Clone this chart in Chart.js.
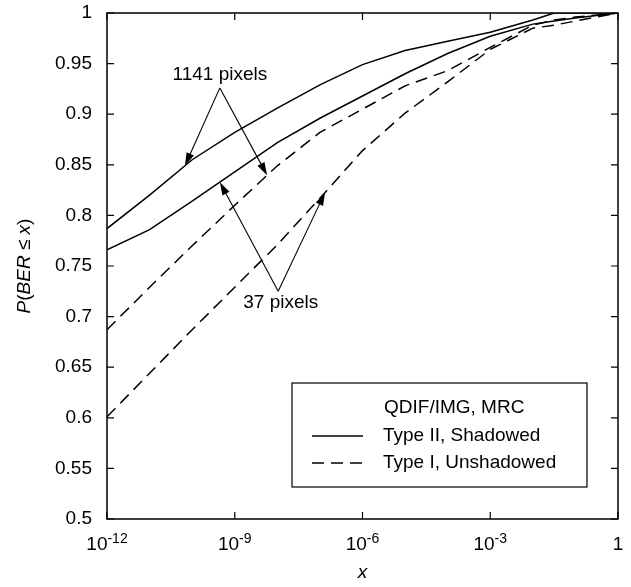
<!DOCTYPE html>
<html>
<head>
<meta charset="utf-8">
<script src="https://cdn.jsdelivr.net/npm/chart.js@4.4.1/dist/chart.umd.min.js"></script>
<style>
  html, body { margin: 0; padding: 0; background: #fff; }
  canvas { display: block; }
</style>
</head>
<body>
<canvas id="myChart" width="631" height="587"></canvas>
<script>
// values
const xValues = [1e-12, 1e-11, 1e-10, 1e-9, 1e-8, 1e-7, 1e-6, 1e-5, 1e-4, 1e-3, 1e-2, 3.16e-2, 1e-1, 1];
const shadowed1141   = [0.787, 0.820, 0.855, 0.882, 0.906, 0.929, 0.949, 0.963, 0.972, 0.981, 0.993, 1.0, 1.0, 1.0];
const shadowed37     = [0.766, 0.786, 0.814, 0.843, 0.872, 0.896, 0.918, 0.940, 0.960, 0.977, 0.989, 0.992, 0.995, 1.0];
const unshadowed1141 = [0.687, 0.729, 0.770, 0.810, 0.849, 0.882, 0.905, 0.928, 0.943, 0.966, 0.988, 0.993, 0.996, 1.0];
const unshadowed37   = [0.601, 0.644, 0.687, 0.729, 0.771, 0.817, 0.864, 0.901, 0.932, 0.964, 0.985, 0.988, 0.992, 1.0];
const allSeries = [shadowed1141, shadowed37, unshadowed1141, unshadowed37];

const xTickValues = [1e-12, 1e-9, 1e-6, 1e-3, 1];
const xTickLabels = [['10', '-12'], ['10', '-9'], ['10', '-6'], ['10', '-3'], ['1', '']];
const yTickValues = [0.5, 0.55, 0.6, 0.65, 0.7, 0.75, 0.8, 0.85, 0.9, 0.95, 1];
const yTickLabels = ['0.5', '0.55', '0.6', '0.65', '0.7', '0.75', '0.8', '0.85', '0.9', '0.95', '1'];

const legendTitle = 'QDIF/IMG, MRC';
const seriesNames = ['Type II, Shadowed', 'Type I, Unshadowed'];

// annotation text + arrows, in data coordinates; tips sit on a series at given x
const notes = [
  { text: '1141 pixels', at: [10 ** -9.35, 0.939], apex: [10 ** -9.35, 0.926],
    tips: [[0, 10 ** -10.17], [2, 10 ** -8.24]] },
  { text: '37 pixels', at: [10 ** -7.92, 0.714], apex: [10 ** -7.98, 0.725],
    tips: [[1, 10 ** -9.35], [3, 10 ** -6.88]] }
];

const FONT = '"Liberation Sans", Arial, Helvetica, sans-serif';
const DASH = [12, 7];

function font(size, italic) {
  return (italic ? 'italic ' : '') + size + 'px ' + FONT;
}

function yOnCurve(data, x) {
  const lx = Math.log10(x);
  for (let i = 0; i < xValues.length - 1; i++) {
    const a = Math.log10(xValues[i]), b = Math.log10(xValues[i + 1]);
    if (lx >= a && lx <= b) return data[i] + (data[i + 1] - data[i]) * (lx - a) / (b - a);
  }
  return data[data.length - 1];
}

function arrow(ctx, x0, y0, x1, y1) {
  const ang = Math.atan2(y1 - y0, x1 - x0);
  const len = 13, half = 4;
  ctx.beginPath();
  ctx.moveTo(x0, y0);
  ctx.lineTo(x1 - Math.cos(ang) * len * 0.8, y1 - Math.sin(ang) * len * 0.8);
  ctx.stroke();
  ctx.beginPath();
  ctx.moveTo(x1, y1);
  ctx.lineTo(x1 - Math.cos(ang) * len - Math.sin(ang) * half, y1 - Math.sin(ang) * len + Math.cos(ang) * half);
  ctx.lineTo(x1 - Math.cos(ang) * len + Math.sin(ang) * half, y1 - Math.sin(ang) * len - Math.cos(ang) * half);
  ctx.closePath();
  ctx.fill();
}

const decorations = {
  id: 'decorations',
  afterDatasetsDraw(chart) {
    const ctx = chart.ctx;
    const area = chart.chartArea;
    const xs = chart.scales.x, ys = chart.scales.y;
    ctx.save();
    ctx.strokeStyle = '#000';
    ctx.fillStyle = '#000';

    // frame
    ctx.lineWidth = 1.5;
    ctx.strokeRect(area.left, area.top, area.right - area.left, area.bottom - area.top);

    // inward ticks on all sides
    ctx.lineWidth = 1.2;
    ctx.beginPath();
    xTickValues.forEach(v => {
      const px = xs.getPixelForValue(v);
      ctx.moveTo(px, area.bottom); ctx.lineTo(px, area.bottom - 7);
      ctx.moveTo(px, area.top); ctx.lineTo(px, area.top + 7);
    });
    yTickValues.forEach(v => {
      const py = ys.getPixelForValue(v);
      ctx.moveTo(area.left, py); ctx.lineTo(area.left + 7, py);
      ctx.moveTo(area.right, py); ctx.lineTo(area.right - 7, py);
    });
    ctx.stroke();

    // y tick labels
    ctx.font = font(19);
    ctx.textAlign = 'right';
    ctx.textBaseline = 'middle';
    yTickValues.forEach((v, i) => {
      ctx.fillText(yTickLabels[i], area.left - 15, ys.getPixelForValue(v));
    });

    // x tick labels with superscript exponent
    ctx.textAlign = 'left';
    ctx.textBaseline = 'alphabetic';
    xTickValues.forEach((v, i) => {
      const [base, exp] = xTickLabels[i];
      ctx.font = font(19);
      const wb = ctx.measureText(base).width;
      ctx.font = font(14);
      const we = exp ? ctx.measureText(exp).width : 0;
      const px = xs.getPixelForValue(v);
      const x0 = px - (wb + we) / 2;
      ctx.font = font(19);
      ctx.fillText(base, x0, area.bottom + 31);
      if (exp) {
        ctx.font = font(14);
        ctx.fillText(exp, x0 + wb, area.bottom + 24);
      }
    });

    // axis titles
    ctx.font = font(19, true);
    ctx.textAlign = 'center';
    ctx.fillText('x', (area.left + area.right) / 2, area.bottom + 59);

    const parts = [['P', true], ['(', false], ['BER', true], [' \u2264 ', false], ['x', true], [')', false]];
    let total = 0;
    parts.forEach(p => { ctx.font = font(19, p[1]); total += ctx.measureText(p[0]).width; });
    ctx.save();
    ctx.translate(25, (area.top + area.bottom) / 2);
    ctx.rotate(-Math.PI / 2);
    ctx.textAlign = 'left';
    ctx.textBaseline = 'middle';
    let cx = -total / 2;
    parts.forEach(p => {
      ctx.font = font(19, p[1]);
      ctx.fillText(p[0], cx, 0);
      cx += ctx.measureText(p[0]).width;
    });
    ctx.restore();

    // annotations
    ctx.lineWidth = 1.1;
    ctx.setLineDash([]);
    notes.forEach(n => {
      ctx.font = font(19);
      ctx.textAlign = 'center';
      ctx.textBaseline = 'middle';
      ctx.fillText(n.text, xs.getPixelForValue(n.at[0]), ys.getPixelForValue(n.at[1]));
      const ax = xs.getPixelForValue(n.apex[0]), ay = ys.getPixelForValue(n.apex[1]);
      n.tips.forEach(([si, tx]) => {
        const ty = yOnCurve(allSeries[si], tx);
        arrow(ctx, ax, ay, xs.getPixelForValue(tx), ys.getPixelForValue(ty));
      });
    });

    // legend box
    const box = { left: area.right - 31 - 295, top: area.bottom - 32 - 104, w: 295, h: 104 };
    ctx.fillStyle = '#fff';
    ctx.fillRect(box.left, box.top, box.w, box.h);
    ctx.fillStyle = '#000';
    ctx.lineWidth = 1.2;
    ctx.strokeRect(box.left, box.top, box.w, box.h);
    ctx.font = font(19);
    ctx.textAlign = 'left';
    ctx.textBaseline = 'middle';
    ctx.fillText(legendTitle, box.left + 92, box.top + 25);
    seriesNames.forEach((name, i) => {
      const y = box.top + 53 + i * 27;
      ctx.lineWidth = 1.4;
      ctx.setLineDash(i === 0 ? [] : DASH);
      ctx.beginPath();
      ctx.moveTo(box.left + 20, y);
      ctx.lineTo(box.left + 71, y);
      ctx.stroke();
      ctx.setLineDash([]);
      ctx.fillText(name, box.left + 91, y);
    });

    ctx.restore();
  }
};

function series(data, dashed) {
  return {
    data: xValues.map((x, i) => ({ x: x, y: data[i] })),
    borderColor: '#000',
    borderWidth: 1.5,
    borderDash: dashed ? DASH : [],
    pointRadius: 0,
    tension: 0,
    fill: false
  };
}

const ctx = document.getElementById('myChart').getContext('2d');
new Chart(ctx, {
  type: 'line',
  data: {
    datasets: [
      series(shadowed1141, false),
      series(shadowed37, false),
      series(unshadowed1141, true),
      series(unshadowed37, true)
    ]
  },
  options: {
    responsive: false,
    animation: false,
    layout: { padding: { left: 107, right: 13, top: 13, bottom: 68 } },
    plugins: { legend: { display: false }, tooltip: { enabled: false } },
    scales: {
      x: {
        type: 'logarithmic', min: 1e-12, max: 1,
        ticks: { display: false }, grid: { display: false }, border: { display: false },
        afterBuildTicks: s => { s.ticks = xTickValues.map(v => ({ value: v })); },
        afterFit: s => { s.height = 0; }
      },
      y: {
        min: 0.5, max: 1,
        ticks: { display: false, stepSize: 0.05 }, grid: { display: false }, border: { display: false },
        afterFit: s => { s.width = 0; }
      }
    }
  },
  plugins: [decorations]
});
</script>
</body>
</html>
